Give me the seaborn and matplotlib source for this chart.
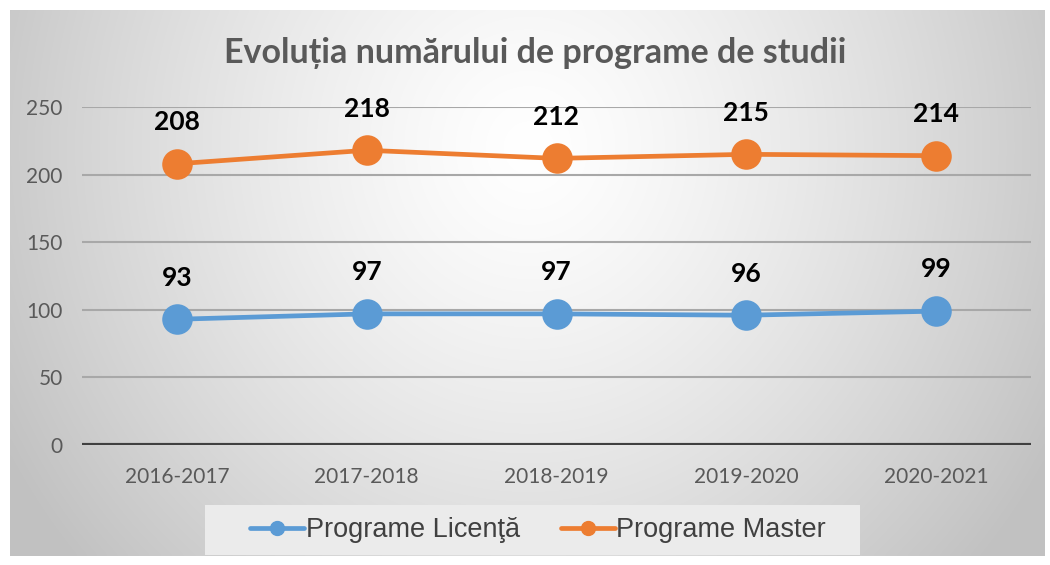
import numpy as np
import pandas as pd
import matplotlib
matplotlib.use("Agg")
import matplotlib.pyplot as plt
import seaborn as sns
from matplotlib.lines import Line2D
from matplotlib.patches import Rectangle

years = ["2016-2017", "2017-2018", "2018-2019", "2019-2020", "2020-2021"]
licenta = [93, 97, 97, 96, 99]
master = [208, 218, 212, 215, 214]
series_names = ["Programe Licenţă", "Programe Master"]
colors = ["#5B9BD5", "#ED7D31"]
title = "Evoluția numărului de programe de studii"
yticks = [0, 50, 100, 150, 200, 250]

sns.set_theme(style="white")
plt.rcParams['font.family'] = ['Lato', 'DejaVu Sans']

W, H = 1050, 565
fig = plt.figure(figsize=(W / 100, H / 100), dpi=100)
fig.patch.set_facecolor("white")

# background frame with radial gradient
bx0, by0, bx1, by1 = 10, 10, 1045, 556
bg = fig.add_axes([bx0 / W, 1 - by1 / H, (bx1 - bx0) / W, (by1 - by0) / H])
yy, xx = np.mgrid[0:200, 0:400]
cx, cy = 200, 50
r = np.sqrt(((xx - cx) / 230.0) ** 2 + ((yy - cy) / 230.0) ** 2)
r = np.clip(r, 0, 1)
vals = 1.0 - 0.24 * r ** 1.3
img = np.dstack([vals, vals, vals])
bg.imshow(img, aspect="auto", extent=[0, 1, 0, 1], origin="upper", interpolation="bicubic")
bg.set_axis_off()

ax = fig.add_axes([82 / W, 1 - 445 / H, (1031 - 82) / W, (445 - 107) / H])
ax.patch.set_alpha(0)

df = pd.DataFrame({
    "year": years * 2,
    "value": licenta + master,
    "series": [series_names[0]] * len(years) + [series_names[1]] * len(years),
})
sns.lineplot(data=df, x="year", y="value", hue="series", palette=colors,
             marker="o", markersize=22, linewidth=3.4, markeredgewidth=0,
             ax=ax, legend=False, sort=False, zorder=5)

for vals_, col in [(licenta, colors[0]), (master, colors[1])]:
    for i, v in enumerate(vals_):
        ax.annotate(str(v), (i, v), xytext=(0, 30), textcoords="offset points",
                    ha="center", va="center", fontsize=19, fontweight="bold",
                    color="black", zorder=6)

ax.set_xlim(-0.5, len(years) - 0.5)
ax.set_ylim(0, 250)
ax.set_yticks(yticks)
ax.set_yticklabels([str(t) for t in yticks], fontsize=15, color="#595959")
ax.set_xticks(range(len(years)))
ax.set_xticklabels(years, fontsize=15, color="#595959")
ax.tick_params(axis="y", length=0, pad=14)
ax.tick_params(axis="x", length=0, pad=16)
ax.set_xlabel("")
ax.set_ylabel("")
for t in yticks[1:]:
    ax.axhline(t, color="#a8a8a8", linewidth=1.5, zorder=1)
ax.axhline(0, color="#404040", linewidth=3, zorder=2)
for s in ax.spines.values():
    s.set_visible(False)

fig.text(535 / W, 1 - 53 / H, title, ha="center", va="center",
         fontsize=24.5, fontweight="bold", color="#595959")

# legend background box
fig.patches.append(Rectangle((205 / W, 1 - 555 / H), (860 - 205) / W, 50 / H,
                             transform=fig.transFigure, facecolor="#ebebeb",
                             edgecolor="none", zorder=0))
handles = [Line2D([0], [0], color=c, linewidth=3.4, marker="o", markersize=10) for c in colors]
leg = fig.legend(handles, series_names, loc="center", bbox_to_anchor=(538 / W, 1 - 530 / H),
                 ncol=2, frameon=False, handlelength=2.0, handletextpad=0.05,
                 columnspacing=1.5, borderpad=0.3, borderaxespad=0,
                 prop={"family": ["Liberation Sans", "DejaVu Sans"], "size": 19.5})
for t in leg.get_texts():
    t.set_color("#404040")

fig.savefig("out.png", dpi=100)
